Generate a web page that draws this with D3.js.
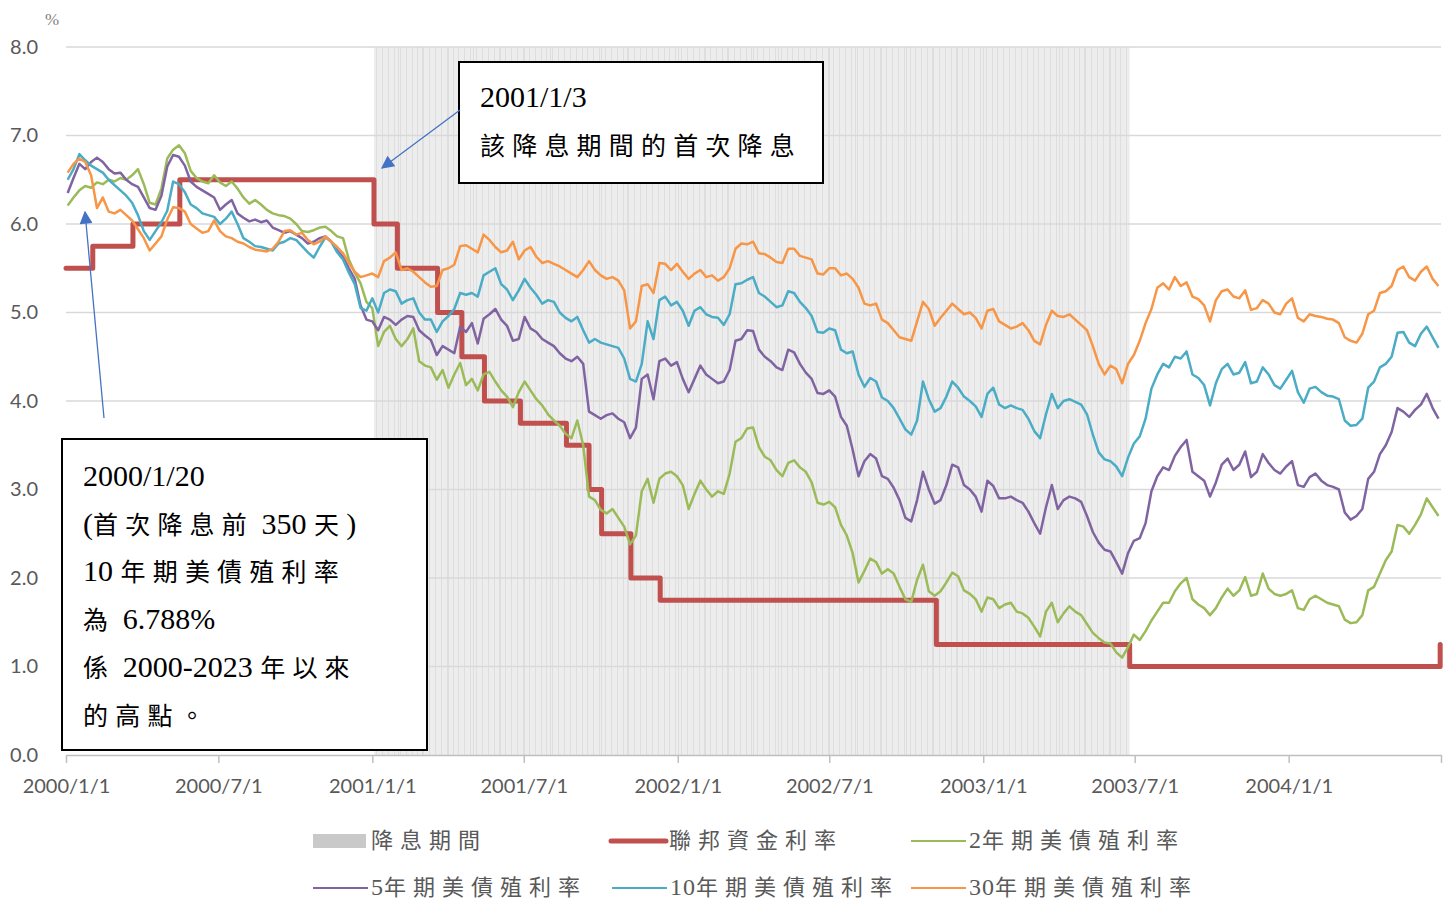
<!DOCTYPE html>
<html>
<head>
<meta charset="utf-8">
<script src="https://cdn.jsdelivr.net/npm/d3@7"></script>
<style>
  html, body { margin: 0; padding: 0; background: #fff; }
  svg { display: block; }
</style>
</head>
<body>
<svg id="chart" width="1451" height="902"></svg>
<script>
// Weekly observations start on Monday 2000-01-03
const firstWeek = new Date(Date.UTC(2000, 0, 3));
const weekCount = 235;

// Rate-cut period shown as a shaded band
const cutStart = new Date(Date.UTC(2001, 0, 3));
const cutEnd = new Date(Date.UTC(2003, 5, 25));

// Federal funds target: [change date, rate %]
const fedFunds = [
  ["2000-01-01", 5.50], ["2000-02-02", 5.75], ["2000-03-21", 6.00], ["2000-05-16", 6.50],
  ["2001-01-03", 6.00], ["2001-01-31", 5.50], ["2001-03-20", 5.00], ["2001-04-18", 4.50],
  ["2001-05-15", 4.00], ["2001-06-27", 3.75], ["2001-08-21", 3.50], ["2001-09-17", 3.00],
  ["2001-10-02", 2.50], ["2001-11-06", 2.00], ["2001-12-11", 1.75], ["2002-11-06", 1.25],
  ["2003-06-25", 1.00], ["2004-06-30", 1.25]
];

const y2 = [
  6.21,6.30,6.38,6.43,6.41,6.47,6.45,6.50,6.48,6.52,
  6.50,6.55,6.62,6.45,6.24,6.22,6.40,6.74,6.84,6.89,
  6.80,6.60,6.52,6.48,6.46,6.55,6.47,6.43,6.48,6.40,
  6.30,6.23,6.27,6.22,6.16,6.12,6.10,6.09,6.06,6.00,
  5.92,5.91,5.93,5.96,5.97,5.92,5.86,5.84,5.60,5.45,
  5.33,5.12,5.05,4.62,4.78,4.85,4.70,4.62,4.70,4.82,
  4.45,4.40,4.38,4.24,4.35,4.15,4.30,4.43,4.18,4.25,
  4.12,4.30,4.33,4.22,4.12,4.05,3.93,4.10,4.22,4.12,
  4.02,3.95,3.85,3.78,3.72,3.63,3.58,3.78,3.50,2.92,
  2.88,2.77,2.73,2.78,2.68,2.58,2.38,2.48,2.98,3.12,
  2.85,3.12,3.18,3.20,3.15,3.05,2.78,2.95,3.10,3.00,
  2.92,2.98,2.95,3.18,3.54,3.58,3.69,3.70,3.48,3.37,
  3.33,3.22,3.15,3.30,3.33,3.25,3.20,3.08,2.85,2.83,
  2.86,2.80,2.60,2.48,2.28,1.95,2.08,2.22,2.18,2.05,
  2.10,2.05,1.90,1.76,1.73,1.98,2.15,1.85,1.80,1.85,
  1.95,2.06,2.02,1.86,1.82,1.76,1.62,1.78,1.76,1.66,
  1.70,1.72,1.62,1.60,1.55,1.45,1.34,1.62,1.72,1.50,
  1.60,1.68,1.62,1.58,1.48,1.38,1.32,1.27,1.26,1.16,
  1.10,1.22,1.36,1.30,1.40,1.52,1.62,1.72,1.72,1.85,
  1.94,2.00,1.76,1.70,1.66,1.58,1.66,1.78,1.88,1.80,
  1.86,2.01,1.80,1.82,2.05,1.88,1.82,1.80,1.82,1.86,
  1.66,1.64,1.76,1.80,1.76,1.72,1.70,1.68,1.53,1.49,
  1.50,1.58,1.86,1.90,2.05,2.20,2.30,2.60,2.58,2.50,
  2.60,2.72,2.90,2.80,2.70
];

const y5 = [
  6.35,6.52,6.68,6.62,6.70,6.75,6.70,6.62,6.57,6.58,
  6.50,6.45,6.42,6.30,6.18,6.16,6.32,6.65,6.78,6.76,
  6.66,6.48,6.42,6.38,6.34,6.30,6.16,6.22,6.27,6.12,
  6.07,6.03,6.05,6.02,6.04,5.96,5.93,5.90,5.92,5.88,
  5.84,5.78,5.80,5.84,5.86,5.80,5.70,5.63,5.50,5.38,
  5.08,4.92,4.90,4.80,4.95,4.92,4.86,4.92,4.96,4.95,
  4.80,4.74,4.69,4.52,4.62,4.58,4.54,4.84,4.78,4.88,
  4.65,4.93,4.98,5.04,4.92,4.85,4.68,4.70,4.95,4.82,
  4.78,4.70,4.66,4.62,4.54,4.48,4.45,4.50,4.42,3.88,
  3.84,3.80,3.84,3.86,3.80,3.76,3.58,3.70,4.25,4.30,
  4.02,4.45,4.48,4.40,4.44,4.25,4.10,4.25,4.40,4.30,
  4.25,4.20,4.22,4.35,4.68,4.70,4.80,4.79,4.58,4.50,
  4.45,4.38,4.35,4.58,4.55,4.42,4.32,4.25,4.09,4.08,
  4.12,4.05,3.82,3.72,3.45,3.15,3.32,3.40,3.35,3.15,
  3.12,3.02,2.88,2.68,2.64,2.88,3.20,3.00,2.84,2.88,
  3.05,3.28,3.25,3.05,3.00,2.92,2.75,3.10,3.04,2.90,
  2.90,2.92,2.88,2.85,2.75,2.62,2.50,2.80,3.05,2.78,
  2.88,2.92,2.90,2.86,2.70,2.52,2.40,2.32,2.30,2.18,
  2.05,2.28,2.42,2.45,2.62,2.98,3.15,3.25,3.22,3.38,
  3.48,3.56,3.20,3.15,3.10,2.92,3.08,3.28,3.35,3.22,
  3.28,3.43,3.14,3.20,3.40,3.30,3.22,3.18,3.26,3.32,
  3.05,3.03,3.14,3.18,3.10,3.05,3.03,3.00,2.74,2.66,
  2.70,2.78,3.12,3.20,3.40,3.50,3.65,3.92,3.88,3.82,
  3.90,3.96,4.08,3.92,3.80
];

const y10 = [
  6.50,6.62,6.79,6.72,6.66,6.62,6.58,6.50,6.44,6.38,
  6.32,6.24,6.10,5.92,5.82,5.92,6.02,6.15,6.48,6.45,
  6.36,6.22,6.18,6.12,6.10,6.08,6.00,6.06,6.14,6.00,
  5.84,5.80,5.75,5.74,5.72,5.70,5.78,5.80,5.84,5.82,
  5.75,5.68,5.62,5.74,5.85,5.80,5.68,5.60,5.45,5.32,
  5.05,5.02,5.16,5.00,5.22,5.26,5.24,5.10,5.14,5.16,
  5.00,4.92,4.92,4.78,4.90,4.96,5.04,5.22,5.20,5.22,
  5.18,5.42,5.46,5.50,5.32,5.26,5.14,5.25,5.38,5.28,
  5.20,5.10,5.14,5.12,5.00,4.94,4.90,4.95,4.80,4.66,
  4.70,4.66,4.64,4.62,4.60,4.48,4.25,4.22,4.42,4.90,
  4.70,5.14,5.18,5.08,5.12,5.02,4.85,5.02,5.06,4.98,
  4.95,4.94,4.86,4.98,5.32,5.33,5.37,5.40,5.22,5.18,
  5.12,5.06,5.08,5.24,5.22,5.12,5.05,4.96,4.78,4.77,
  4.82,4.80,4.58,4.54,4.56,4.30,4.16,4.26,4.22,4.04,
  4.00,3.92,3.80,3.68,3.62,3.78,4.22,4.02,3.88,3.92,
  4.05,4.22,4.15,4.05,4.00,3.94,3.82,4.08,4.15,3.96,
  3.92,3.95,3.92,3.90,3.80,3.66,3.58,3.85,4.08,3.92,
  4.00,4.02,3.99,3.96,3.85,3.62,3.42,3.34,3.32,3.26,
  3.15,3.36,3.52,3.60,3.80,4.14,4.30,4.42,4.38,4.50,
  4.48,4.56,4.30,4.26,4.18,3.95,4.20,4.36,4.42,4.30,
  4.32,4.44,4.20,4.22,4.38,4.30,4.18,4.14,4.24,4.34,
  4.10,3.98,4.14,4.16,4.10,4.06,4.05,4.02,3.78,3.72,
  3.73,3.80,4.15,4.22,4.38,4.42,4.50,4.77,4.78,4.66,
  4.62,4.76,4.84,4.72,4.60
];

const y30 = [
  6.58,6.68,6.74,6.70,6.55,6.18,6.30,6.14,6.12,6.16,
  6.10,6.04,5.94,5.84,5.70,5.78,5.86,6.05,6.19,6.18,
  6.14,6.00,5.95,5.90,5.92,6.04,5.92,5.86,5.84,5.80,
  5.78,5.74,5.71,5.70,5.69,5.72,5.80,5.92,5.93,5.88,
  5.90,5.82,5.77,5.80,5.86,5.80,5.74,5.67,5.56,5.46,
  5.40,5.42,5.44,5.40,5.58,5.62,5.68,5.48,5.50,5.46,
  5.40,5.34,5.29,5.30,5.48,5.50,5.54,5.75,5.76,5.72,
  5.68,5.88,5.82,5.74,5.68,5.70,5.80,5.60,5.70,5.74,
  5.63,5.56,5.58,5.55,5.52,5.48,5.44,5.40,5.48,5.58,
  5.48,5.42,5.38,5.40,5.36,5.25,4.82,4.90,5.30,5.32,
  5.22,5.56,5.55,5.48,5.55,5.46,5.38,5.44,5.48,5.40,
  5.42,5.36,5.40,5.50,5.72,5.78,5.77,5.80,5.67,5.66,
  5.62,5.57,5.56,5.72,5.72,5.64,5.62,5.60,5.44,5.43,
  5.50,5.50,5.42,5.44,5.38,5.28,5.10,5.08,5.10,4.92,
  4.88,4.80,4.72,4.70,4.68,4.90,5.12,5.04,4.85,4.94,
  5.02,5.10,5.04,4.98,5.00,4.94,4.82,5.02,5.04,4.90,
  4.86,4.82,4.84,4.88,4.80,4.68,4.64,4.86,5.02,4.96,
  4.95,4.98,4.92,4.86,4.80,4.62,4.42,4.30,4.40,4.36,
  4.20,4.42,4.52,4.68,4.88,5.04,5.28,5.33,5.26,5.40,
  5.30,5.34,5.18,5.15,5.08,4.90,5.14,5.24,5.26,5.18,
  5.16,5.25,5.03,5.05,5.14,5.10,5.00,4.98,5.10,5.16,
  4.94,4.90,4.98,4.96,4.95,4.93,4.92,4.88,4.72,4.68,
  4.66,4.76,4.98,5.02,5.22,5.24,5.30,5.48,5.52,5.40,
  5.36,5.46,5.52,5.38,5.30
];

const yTicks = [0, 1, 2, 3, 4, 5, 6, 7, 8];
const xTickLabels = ["2000/1/1", "2000/7/1", "2001/1/1", "2001/7/1", "2002/1/1",
                     "2002/7/1", "2003/1/1", "2003/7/1", "2004/1/1"];

const seriesNames = {
  cut: "降息期間", fed: "聯邦資金利率", y2: "2年期美債殖利率",
  y5: "5年期美債殖利率", y10: "10年期美債殖利率", y30: "30年期美債殖利率"
};

const notes = [
  { lines: ["2001/1/3", "該降息期間的首次降息"] },
  { lines: ["2000/1/20", "(首次降息前 350 天)", "10 年期美債殖利率", "為 6.788%", "係 2000-2023 年以來", "的高點。"] }
];

// ---------- drawing ----------
const parse = d3.utcParse("%Y/%m/%d");
const parseIso = d3.utcParse("%Y-%m-%d");
const weeks = d3.range(weekCount).map(i => d3.utcDay.offset(firstWeek, 7 * i));

const svg = d3.select("#chart");
const plot = { left: 66, right: 1441, top: 47, bottom: 755 };

const x = d3.scaleUtc()
  .domain([new Date(Date.UTC(2000, 0, 1)), new Date(Date.UTC(2004, 6, 1))])
  .range([plot.left, plot.right]);
const y = d3.scaleLinear().domain([0, 8]).range([plot.bottom, plot.top]);

const colors = {
  cut: "#c9c9c9", fed: "#c0504d", y2: "#9bbb59", y5: "#8064a2", y10: "#4bacc6", y30: "#f79646"
};

// shaded rate-cut period with faint daily column edges
const band = svg.append("g");
band.append("rect")
  .attr("x", x(cutStart)).attr("y", y(8))
  .attr("width", x(cutEnd) - x(cutStart)).attr("height", y(0) - y(8))
  .attr("fill", "#ededed");
band.selectAll("line")
  .data(d3.utcDay.range(cutStart, cutEnd).filter(d => d.getUTCDay() === 6 || d.getUTCDate() === 1))
  .join("line")
  .attr("x1", d => Math.round(x(d)) + 0.5).attr("x2", d => Math.round(x(d)) + 0.5)
  .attr("y1", y(8)).attr("y2", y(0))
  .attr("stroke", "#dedede").attr("stroke-width", 1);

// horizontal gridlines
svg.append("g").selectAll("line")
  .data(yTicks.filter(t => t > 0))
  .join("line")
  .attr("x1", plot.left).attr("x2", plot.right)
  .attr("y1", d => y(d)).attr("y2", d => y(d))
  .attr("stroke", "#d9d9d9").attr("stroke-width", 1.5);

const tickFont = "Lato, 'Open Sans', sans-serif";

// y axis labels
const yAxis = d3.axisLeft(y).tickValues(yTicks).tickFormat(d3.format(".1f")).tickSize(0).tickPadding(28);
const gy = svg.append("g").attr("transform", `translate(${plot.left},0)`).call(yAxis);
gy.select(".domain").remove();
gy.selectAll("text").attr("font-family", tickFont).attr("font-size", 20).attr("fill", "#595959");

// x axis
const xTicks = xTickLabels.map(s => parse(s));
const xAxis = d3.axisBottom(x).tickValues(xTicks.concat([x.domain()[1]]))
  .tickFormat((d, i) => i < xTickLabels.length ? xTickLabels[i] : "")
  .tickSize(8).tickSizeOuter(0).tickPadding(16);
const gx = svg.append("g").attr("transform", `translate(0,${plot.bottom})`).call(xAxis);
gx.select(".domain").attr("stroke", "#bfbfbf").attr("stroke-width", 1.5);
gx.selectAll(".tick line").attr("stroke", "#bfbfbf").attr("stroke-width", 1.5);
gx.selectAll("text").attr("font-family", tickFont).attr("font-size", 20).attr("fill", "#595959");

// unit label
svg.append("text").attr("x", 52).attr("y", 25).attr("text-anchor", "middle")
  .attr("font-family", "'Liberation Serif', serif").attr("font-size", 17).attr("fill", "#7f7f7f").text("%");

// federal funds step line
const fedLine = d3.line().curve(d3.curveStepAfter).x(d => x(parseIso(d[0]))).y(d => y(d[1]));
svg.append("path").datum(fedFunds).attr("d", fedLine)
  .attr("fill", "none").attr("stroke", colors.fed).attr("stroke-width", 5)
  .attr("stroke-linejoin", "round").attr("stroke-linecap", "round");

// treasury yields
const yieldLine = d3.line().x((d, i) => x(weeks[i])).y(d => y(d));
[["y2", y2], ["y5", y5], ["y10", y10], ["y30", y30]].forEach(([k, vals]) => {
  svg.append("path").datum(vals).attr("d", yieldLine)
    .attr("fill", "none").attr("stroke", colors[k]).attr("stroke-width", 2.5)
    .attr("stroke-linejoin", "round");
});

// mixed CJK / Latin text runs
const cjkRe = /[\u3000-\u30ff\u3400-\u9fff\uff00-\uffef]+|[^\u3000-\u30ff\u3400-\u9fff\uff00-\uffef]+/g;
function richText(sel, str, opt) {
  const runs = str.match(cjkRe) || [];
  runs.forEach(r => {
    const isCjk = /[\u3000-\u30ff\u3400-\u9fff\uff00-\uffef]/.test(r);
    sel.append("tspan")
      .attr("font-family", isCjk ? "'Noto Sans CJK TC', sans-serif" : "'Liberation Serif', serif")
      .attr("font-size", isCjk ? opt.cjkSize : opt.latinSize)
      .attr("letter-spacing", isCjk ? opt.cjkSpacing : opt.latinSpacing)
      .attr("font-weight", isCjk ? opt.cjkWeight : 400)
      .text(r);
  });
}

// annotation boxes
function noteBox(note, bx, by, bw, bh, tx, ty, lineGap) {
  const g = svg.append("g");
  g.append("rect").attr("x", bx).attr("y", by).attr("width", bw).attr("height", bh)
    .attr("fill", "#fff").attr("stroke", "#000").attr("stroke-width", 2);
  note.lines.forEach((ln, i) => {
    const t = g.append("text").attr("x", tx).attr("y", ty + i * lineGap).attr("fill", "#000");
    richText(t, ln, { cjkSize: 25, latinSize: 30, cjkSpacing: 7.2, latinSpacing: 0, cjkWeight: 400 });
  });
}

// arrows
const defs = svg.append("defs");
defs.append("marker").attr("id", "arrowHead").attr("viewBox", "0 0 10 10")
  .attr("refX", 9).attr("refY", 5).attr("markerWidth", 18).attr("markerHeight", 13)
  .attr("markerUnits", "userSpaceOnUse").attr("orient", "auto")
  .append("path").attr("d", "M0,0 L10,5 L0,10 Z").attr("fill", "#4472c4");

function arrow(x1, y1, x2, y2) {
  svg.append("line").attr("x1", x1).attr("y1", y1).attr("x2", x2).attr("y2", y2)
    .attr("stroke", "#4472c4").attr("stroke-width", 1.3).attr("marker-end", "url(#arrowHead)");
}

noteBox(notes[0], 459, 62, 364, 121, 480, 107, 48);
noteBox(notes[1], 62, 439, 365, 311, 83, 486, 47.7);
arrow(460, 110, 382, 168);
arrow(104, 418, 85, 212);

// legend
const legend = svg.append("g");
const legendItems = [
  { key: "cut", x: 313, y: 841, type: "box" },
  { key: "fed", x: 611, y: 841, type: "thick" },
  { key: "y2", x: 911, y: 841, type: "line" },
  { key: "y5", x: 313, y: 888, type: "line" },
  { key: "y10", x: 612, y: 888, type: "line" },
  { key: "y30", x: 911, y: 888, type: "line" }
];
legendItems.forEach(it => {
  if (it.type === "box") {
    legend.append("rect").attr("x", it.x).attr("y", it.y - 7).attr("width", 53).attr("height", 14)
      .attr("fill", colors.cut);
  } else {
    legend.append("line").attr("x1", it.x).attr("x2", it.x + 55).attr("y1", it.y).attr("y2", it.y)
      .attr("stroke", colors[it.key]).attr("stroke-width", it.type === "thick" ? 5 : 2.2)
      .attr("stroke-linecap", it.type === "thick" ? "round" : "butt");
  }
  const t = legend.append("text").attr("x", it.x + 58).attr("y", it.y + 7).attr("fill", "#595959");
  richText(t, seriesNames[it.key], { cjkSize: 22, latinSize: 24, cjkSpacing: 7, latinSpacing: 1, cjkWeight: 400 });
});
</script>
</body>
</html>
